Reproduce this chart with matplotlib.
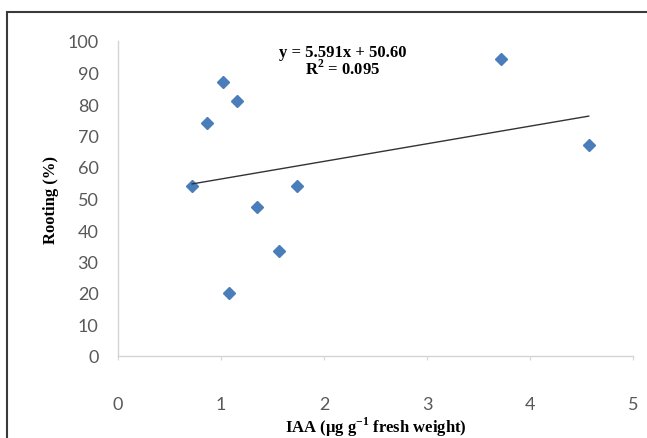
import numpy as np
import matplotlib
matplotlib.use('Agg')
import matplotlib.pyplot as plt
from matplotlib.patches import Rectangle

# IAA content vs rooting percentage
iaa = [0.72, 0.86, 1.02, 1.16, 1.35, 1.74, 1.56, 1.08, 3.72, 4.57]
rooting = [54.0, 74.0, 87.0, 81.0, 47.3, 54.0, 33.3, 20.0, 94.3, 67.0]

# trend line as printed on the chart
slope = 5.591
intercept = 50.60
eq_text = 'y = 5.591x + 50.60'
r2_text = 'R$^{\\mathregular{2}}$ = 0.095'

x_ticks = [0, 1, 2, 3, 4, 5]
y_ticks = [0, 10, 20, 30, 40, 50, 60, 70, 80, 90, 100]

W, H = 647, 439
fig = plt.figure(figsize=(W / 100, H / 100), dpi=100)
ax = fig.add_axes([118 / W, 82 / H, 515 / W, 315 / H])

# outer border of the chart area (cut off at right and bottom)
fig.patches.append(Rectangle((7 / W, -0.05), 1.0, (H - 13) / H + 0.05,
                             transform=fig.transFigure, fill=False,
                             edgecolor='#3a3a3a', linewidth=1.5))

ax.plot(iaa, rooting, linestyle='none', marker='D', markersize=6,
        color='#4A7EBB', markeredgecolor='#4A7EBB')

xs = np.array([min(iaa), max(iaa)])
ax.plot(xs, slope * xs + intercept, color='#333333', linewidth=1.0)

ax.set_xlim(0, 5)
ax.set_ylim(0, 100)
ax.set_xticks(x_ticks)
ax.set_yticks(y_ticks)

for s in ['top', 'right']:
    ax.spines[s].set_visible(False)
for s in ['left', 'bottom']:
    ax.spines[s].set_color('#d4d4d4')
    ax.spines[s].set_linewidth(1.0)

ax.tick_params(axis='x', colors='#d4d4d4', length=3, pad=26,
               labelcolor='#595959', labelsize=13)
ax.tick_params(axis='y', colors='#d4d4d4', length=0, pad=14,
               labelcolor='#595959', labelsize=13)
for lab in ax.get_xticklabels() + ax.get_yticklabels():
    lab.set_family('Lato')

ax.set_xlabel('IAA (\u03bcg g$^{\\mathregular{-1}}$ fresh weight)',
              family='Liberation Serif', fontweight='bold', fontsize=12, labelpad=2)
ax.set_ylabel('Rooting (%)', family='Liberation Serif', fontweight='bold',
              fontsize=12, labelpad=6)

ax.text(343 / W, 1 - 53 / H, eq_text, transform=fig.transFigure,
        ha='center', va='center',
        family='Liberation Serif', fontweight='bold', fontsize=12)
ax.text(343 / W, 1 - 69 / H, r2_text, transform=fig.transFigure,
        ha='center', va='center',
        family='Liberation Serif', fontweight='bold', fontsize=12)

fig.savefig('out.png', dpi=100)
